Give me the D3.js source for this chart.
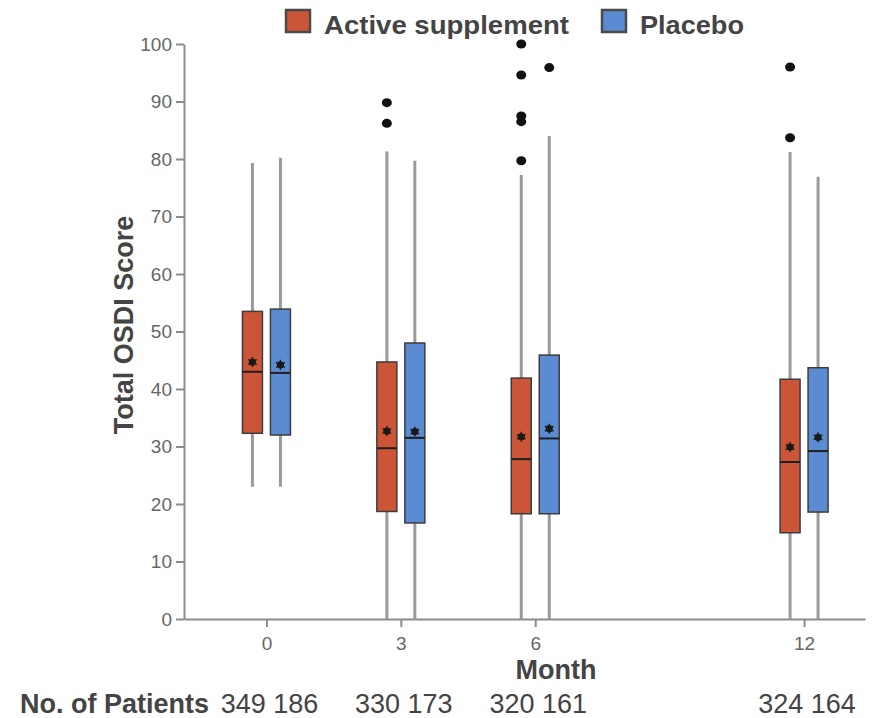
<!DOCTYPE html>
<html lang="en">
  <head>
    <meta charset="UTF-8" />
    <title>Total OSDI Score by Month</title>
    <script src="https://d3js.org/d3.v7.min.js"></script>
    <style>
      body {
        margin: 0;
        background: #fff;
      }
      svg {
        font-family: "Liberation Sans", Arial, sans-serif;
      }
      .axis path,
      .axis line {
        stroke: #8c8c8c;
        stroke-width: 2px;
      }
      .axis text {
        fill: #666;
        font-size: 19px;
      }
    </style>
  </head>
  <body>
    <svg width="879" height="718"></svg>

    <script>
      // data
      var months = [0, 3, 6, 12];
      var seriesNames = ["Active supplement", "Placebo"];
      var yTicks = [0, 10, 20, 30, 40, 50, 60, 70, 80, 90, 100];

      var activeLow = [23, 0, 0, 0];
      var activeQ1 = [32.3, 18.7, 18.3, 15.0];
      var activeMedian = [43.0, 29.7, 27.8, 27.3];
      var activeMean = [44.7, 32.7, 31.7, 29.9];
      var activeQ3 = [53.5, 44.7, 41.9, 41.7];
      var activeHigh = [79.3, 81.3, 77.2, 81.2];
      var activeOutliers = [[], [89.8, 86.2], [100, 94.6, 87.5, 86.5, 79.7], [96.0, 83.7]];

      var placeboLow = [23, 0, 0, 0];
      var placeboQ1 = [32.0, 16.7, 18.3, 18.6];
      var placeboMedian = [42.8, 31.5, 31.4, 29.2];
      var placeboMean = [44.2, 32.6, 33.1, 31.6];
      var placeboQ3 = [53.9, 48.0, 45.9, 43.7];
      var placeboHigh = [80.2, 79.7, 84.0, 76.9];
      var placeboOutliers = [[], [], [95.9], []];

      var activePatients = [349, 330, 320, 324];
      var placeboPatients = [186, 173, 161, 164];

      var colors = ["#cc5537", "#5b8bd3"];

      var svg = d3.select("svg");

      var x = d3.scaleLinear().domain([-1.84, 13.36]).range([184, 865]);
      var y = d3.scaleLinear().domain([0, 100]).range([619, 44]);

      // build one record per box
      var boxes = [];
      months.forEach(function (m, i) {
        boxes.push({
          month: m, s: 0, low: activeLow[i], q1: activeQ1[i], med: activeMedian[i],
          mean: activeMean[i], q3: activeQ3[i], high: activeHigh[i], out: activeOutliers[i]
        });
        boxes.push({
          month: m, s: 1, low: placeboLow[i], q1: placeboQ1[i], med: placeboMedian[i],
          mean: placeboMean[i], q3: placeboQ3[i], high: placeboHigh[i], out: placeboOutliers[i]
        });
      });

      var offset = 14,
        boxW = 20;
      function cx(d) {
        return x(d.month) + (d.s === 0 ? -offset : offset);
      }

      // axes
      svg
        .append("g")
        .attr("class", "axis")
        .attr("transform", "translate(184,0)")
        .call(d3.axisLeft(y).tickValues(yTicks).tickSize(8).tickSizeOuter(0).tickPadding(4));

      svg
        .append("g")
        .attr("class", "axis")
        .attr("transform", "translate(0,619)")
        .call(d3.axisBottom(x).tickValues(months).tickSize(8).tickSizeOuter(0).tickPadding(10));

      var g = svg.selectAll(".box").data(boxes).enter().append("g").attr("class", "box");

      // whiskers
      g.append("line")
        .attr("x1", cx)
        .attr("x2", cx)
        .attr("y1", function (d) { return y(d.low); })
        .attr("y2", function (d) { return y(d.high); })
        .attr("stroke", "#9a9a9a")
        .attr("stroke-width", 3);

      g.append("rect")
        .attr("x", function (d) { return cx(d) - boxW / 2; })
        .attr("y", function (d) { return y(d.q3); })
        .attr("width", boxW)
        .attr("height", function (d) { return y(d.q1) - y(d.q3); })
        .attr("fill", function (d) { return colors[d.s]; })
        .attr("stroke", "#3d3d3d")
        .attr("stroke-width", 1.5);

      g.append("line")
        .attr("x1", function (d) { return cx(d) - boxW / 2; })
        .attr("x2", function (d) { return cx(d) + boxW / 2; })
        .attr("y1", function (d) { return y(d.med); })
        .attr("y2", function (d) { return y(d.med); })
        .attr("stroke", "#1e1e1e")
        .attr("stroke-width", 2);

      // mean marker
      g.append("circle")
        .attr("cx", cx)
        .attr("cy", function (d) { return y(d.mean); })
        .attr("r", 3.6)
        .attr("fill", "#1a1a1a");
      g.append("path")
        .attr("d", d3.symbol(d3.symbolAsterisk, 70))
        .attr("transform", function (d) { return "translate(" + cx(d) + "," + y(d.mean) + ")"; })
        .attr("stroke", "#1a1a1a")
        .attr("stroke-width", 1.3)
        .attr("fill", "none");

      // outliers
      g.selectAll(".out")
        .data(function (d) {
          return d.out.map(function (v) { return { v: v, b: d }; });
        })
        .enter()
        .append("ellipse")
        .attr("class", "out")
        .attr("cx", function (o) { return cx(o.b); })
        .attr("cy", function (o) { return y(o.v); })
        .attr("rx", 5)
        .attr("ry", 4.5)
        .attr("fill", "#111");

      // axis titles
      svg
        .append("text")
        .attr("transform", "translate(133,325) rotate(-90)")
        .attr("text-anchor", "middle")
        .attr("font-size", 27)
        .attr("font-weight", "bold")
        .attr("fill", "#444")
        .text("Total OSDI Score");

      svg
        .append("text")
        .attr("x", 556)
        .attr("y", 679)
        .attr("text-anchor", "middle")
        .attr("font-size", 27)
        .attr("font-weight", "bold")
        .attr("fill", "#444")
        .text("Month");

      // patient counts
      svg
        .append("text")
        .attr("x", 20)
        .attr("y", 713)
        .attr("font-size", 27)
        .attr("font-weight", "bold")
        .attr("fill", "#444")
        .text("No. of Patients");

      svg
        .selectAll(".count")
        .data(months)
        .enter()
        .append("text")
        .attr("class", "count")
        .attr("x", function (m) { return x(m) + 3; })
        .attr("y", 713)
        .attr("text-anchor", "middle")
        .attr("font-size", 27)
        .attr("fill", "#444")
        .text(function (m, i) { return activePatients[i] + " " + placeboPatients[i]; });

      // legend
      var legendX = [286, 602],
        legendW = [245, 104];
      var lg = svg
        .selectAll(".legend")
        .data(seriesNames)
        .enter()
        .append("g")
        .attr("class", "legend")
        .attr("transform", function (d, i) { return "translate(" + legendX[i] + ",10)"; });

      lg.append("rect")
        .attr("width", 24)
        .attr("height", 22)
        .attr("fill", function (d, i) { return colors[i]; })
        .attr("stroke", "#4a4a4a")
        .attr("stroke-width", 2.5);

      lg.append("text")
        .attr("x", 38)
        .attr("y", 24)
        .attr("font-size", 25)
        .attr("font-weight", "bold")
        .attr("fill", "#444")
        .attr("textLength", function (d, i) { return legendW[i]; })
        .attr("lengthAdjust", "spacingAndGlyphs")
        .text(function (d) { return d; });
    </script>
  </body>
</html>
